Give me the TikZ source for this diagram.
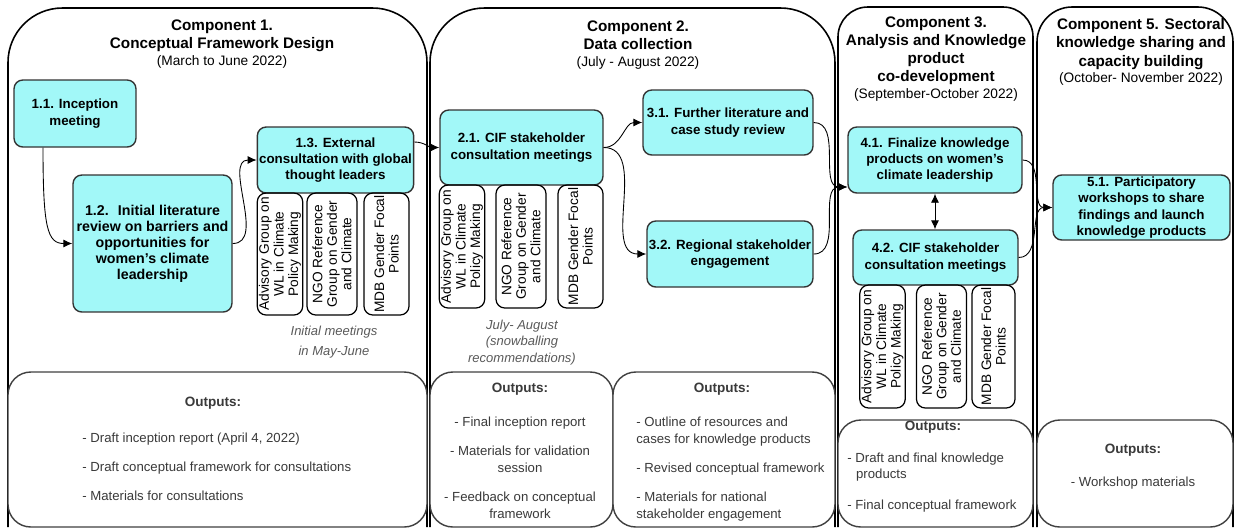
\documentclass[tikz,border=0pt]{standalone}
\usepackage{fontspec}
\setmainfont{Liberation Sans}
\usepackage{tikz}
\usetikzlibrary{arrows.meta,positioning}
\definecolor{stepfill}{HTML}{A2F8F8}
\definecolor{stepline}{HTML}{333333}
\definecolor{outtext}{HTML}{3A3A3A}

\begin{document}
\begin{tikzpicture}[x=0.02cm, y=-0.02cm, font=\fontsize{7.6}{9.4}\selectfont,
	stepbox/.style={draw=stepline, line width=0.8pt, fill=stepfill, rounded corners=5pt, align=center, inner sep=1pt, font=\fontsize{7.6}{9.3}\selectfont\bfseries},
	groupbox/.style={draw=black, line width=0.7pt, rounded corners=5pt, rotate=90, align=center, inner sep=1pt, font=\fontsize{7.8}{8.3}\selectfont},
	comptitle/.style={align=center, font=\fontsize{8.7}{10.3}\selectfont\bfseries},
	captionnote/.style={align=center, text=black!65, font=\fontsize{7.4}{9.2}\selectfont\itshape},
	outbox/.style={draw=black!75, line width=0.8pt, fill=white, rounded corners=13pt},
	outhead/.style={text=outtext, font=\fontsize{7.7}{9}\selectfont\bfseries},
	outlist/.style={inner sep=0pt, text=outtext, font=\fontsize{7.5}{9.6}\selectfont},
	flowarrow/.style={-{Latex[length=1.8mm,width=1.6mm]}, line width=0.5pt}]
	\useasboundingbox (0,0) rectangle (1235,529);
	% component columns
	\draw[line width=0.9pt, rounded corners=31pt] (8,527) |- (220,8) -| (427,527);
	\draw[line width=0.9pt, rounded corners=31pt] (430,527) |- (630,8) -| (835,527);
	\draw[line width=0.9pt, rounded corners=17pt] (838,527) |- (935,7) -| (1033,527);
	\draw[line width=0.9pt, rounded corners=20pt] (1037,527) |- (1135,7) -| (1233,527);
	\node[comptitle] (t1) at (222,44) {Component 1.\\Conceptual Framework Design\\[-1pt]{\fontsize{7.8}{9}\selectfont\mdseries (March to June 2022)}};
	\node[comptitle] (t2) at (638,45) {Component 2.\\Data collection\\[-1pt]{\fontsize{7.8}{9}\selectfont\mdseries (July - August 2022)}};
	\node[comptitle] (t3) at (936,59) {Component 3.\\Analysis and Knowledge\\product\\co-development\\[-1pt]{\fontsize{7.8}{9}\selectfont\mdseries (September-October 2022)}};
	\node[comptitle] (t5) at (1141,52) {Component 5. Sectoral\\knowledge sharing and\\capacity building\\[-1pt]{\fontsize{7.8}{9}\selectfont\mdseries (October- November 2022)}};
	% outputs
	\draw[outbox] (8,372) rectangle (427,527);
	\draw[outbox] (430,372) rectangle (613,527);
	\draw[outbox] (613,372) rectangle (835,527);
	\draw[outbox] (838,420) rectangle (1033,527);
	\draw[outbox] (1037,420) rectangle (1233,527);
	\node[outhead] (o1h) at (213,403) {Outputs:};
	\node[outlist, anchor=west, align=left] (o1t) at (82,467) {- Draft inception report (April 4, 2022)\\[7pt]- Draft conceptual framework for consultations\\[7pt]- Materials for consultations};
	\node[outhead] (o2h) at (520,389) {Outputs:};
	\node[outlist, align=center] (o2t) at (520,467.5) {- Final inception report\\[7pt]- Materials for validation\\session\\[7pt]- Feedback on conceptual\\framework};
	\node[outhead] (o3h) at (722,389) {Outputs:};
	\node[outlist, anchor=west, align=left] (o3t) at (636,469) {- Outline of resources and\\cases for knowledge products\\[7pt]- Revised conceptual framework\\[7pt]- Materials for national\\stakeholder engagement};
	\node[outhead] (o4h) at (933,427) {Outputs:};
	\node[outlist, anchor=west, align=left] (o4t) at (847,482.5) {- Draft and final knowledge\\\hspace*{5pt}products\\[8pt]- Final conceptual framework};
	\node[outhead] (o5h) at (1133,450) {Outputs:};
	\node[outlist] (o5t) at (1133,483) {- Workshop materials};
	% steps
	\node[stepbox, minimum width=2.44cm, minimum height=1.34cm] (s11) at (75,113.5) {1.1. Inception\\meeting};
	\node[stepbox, minimum width=3.18cm, minimum height=2.74cm, font=\fontsize{8.1}{9.1}\selectfont\bfseries] (s12) at (152.5,243.5) {1.2.~ Initial literature\\review on barriers and\\opportunities for\\women’s climate\\leadership};
	\node[stepbox, minimum width=3.1cm, minimum height=1.32cm] (s13) at (335.5,160) {1.3. External\\consultation with global\\thought leaders};
	\node[stepbox, minimum width=3.26cm, minimum height=1.5cm] (s21) at (521.5,147.5) {2.1. CIF stakeholder\\consultation meetings};
	\node[stepbox, minimum width=3.4cm, minimum height=1.3cm] (s31) at (728,122.5) {3.1. Further literature and\\case study review};
	\node[stepbox, minimum width=3.32cm, minimum height=1.32cm] (s32) at (730,254) {3.2. Regional stakeholder\\engagement};
	\node[stepbox, minimum width=3.48cm, minimum height=1.32cm] (s41) at (935,160) {4.1. Finalize knowledge\\products on women’s\\climate leadership};
	\node[stepbox, minimum width=3.3cm, minimum height=1.1cm] (s42) at (935.5,257.5) {4.2. CIF stakeholder\\consultation meetings};
	\node[stepbox, minimum width=3.54cm, minimum height=1.3cm] (s51) at (1141.5,207.5) {5.1. Participatory\\workshops to share\\findings and launch\\knowledge products};
	% groups consulted
	\node[groupbox, minimum width=2.44cm, minimum height=0.88cm] (g13a) at (280,254) {Advisory Group on\\WL in Climate\\Policy Making};
	\node[groupbox, minimum width=2.44cm, minimum height=1cm] (g13b) at (332,254) {NGO Reference\\Group on Gender\\and Climate};
	\node[groupbox, minimum width=2.44cm, minimum height=0.9cm] (g13c) at (386.5,254) {MDB Gender Focal\\Points};
	\node[groupbox, minimum width=2.46cm, minimum height=0.88cm] (g21a) at (462,246.5) {Advisory Group on\\WL in Climate\\Policy Making};
	\node[groupbox, minimum width=2.46cm, minimum height=1cm] (g21b) at (521,246.5) {NGO Reference\\Group on Gender\\and Climate};
	\node[groupbox, minimum width=2.46cm, minimum height=0.9cm] (g21c) at (580.5,246.5) {MDB Gender Focal\\Points};
	\node[groupbox, minimum width=2.46cm, minimum height=0.9cm] (g42a) at (882.5,346.5) {Advisory Group on\\WL in Climate\\Policy Making};
	\node[groupbox, minimum width=2.46cm, minimum height=1cm] (g42b) at (941.5,346.5) {NGO Reference\\Group on Gender\\and Climate};
	\node[groupbox, minimum width=2.46cm, minimum height=0.86cm] (g42c) at (993.5,346.5) {MDB Gender Focal\\Points};
	\node[captionnote] (n13) at (334,342) {Initial meetings\\[2pt]in May-June};
	\node[captionnote] (n21) at (522,342.5) {July- August\\(snowballing\\recommendations)};
	% connectors
	\draw[flowarrow] ([xshift=-0.64cm]s11.south) .. controls +(0,80) and +(-25,0) .. (s12.west);
	\draw[flowarrow] (s12.east) to[out=0, in=180] (s13.west);
	\draw[flowarrow] ([yshift=0.36cm]s13.east) to[out=0, in=180] (s21.west);
	\draw[flowarrow] (s21.east) to[out=0, in=180] (s31.west);
	\draw[flowarrow] (s21.east) to[out=0, in=180] (s32.west);
	\draw[flowarrow] (s31.east) to[out=0, in=180] ([yshift=-0.54cm]s41.west);
	\draw[flowarrow] (s32.east) to[out=0, in=180] ([yshift=-0.54cm]s41.west);
	\draw[flowarrow, {Latex[length=1.8mm,width=1.6mm]}-{Latex[length=1.8mm,width=1.6mm]}] (s41.south) -- (s41.south |- s42.north);
	\draw[flowarrow] (s41.east) to[out=0, in=180] (s51.west);
	\draw[flowarrow] (s42.east) to[out=0, in=180] (s51.west);
\end{tikzpicture}
\end{document}
